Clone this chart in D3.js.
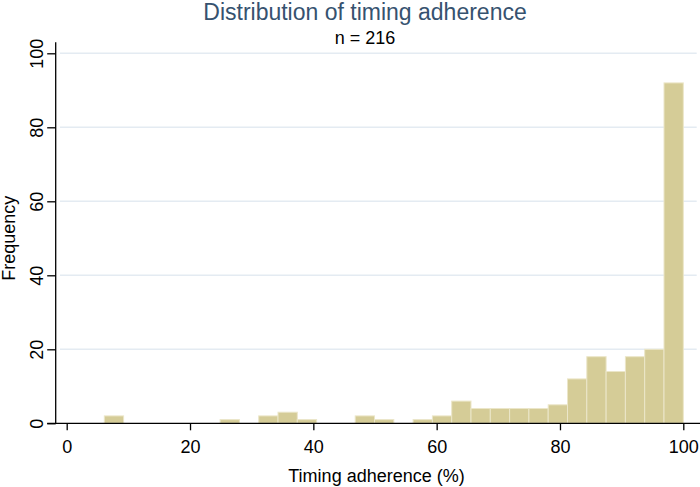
<!DOCTYPE html>
<html>
<head>
<meta charset="utf-8">
<script src="https://cdn.jsdelivr.net/npm/d3@7/dist/d3.min.js"></script>
<style>
  html, body { margin: 0; padding: 0; background: #fff; }
  svg { display: block; font-family: "Liberation Sans", Arial, sans-serif; }
</style>
</head>
<body>
<svg id="chart" width="700" height="487"></svg>
<script>
// ---- data ----
const titleText = "Distribution of timing adherence";
const subtitleText = "n = 216";
const xLabel = "Timing adherence (%)";
const yLabel = "Frequency";
const binStart = 6.1;      // left edge of first bin (%)
const binWidth = 3.13;     // bin width (%)
const counts = [2, 0, 0, 0, 0, 0, 1, 0, 2, 3, 1, 0, 0, 2, 1, 0, 1, 2, 6, 4, 4, 4, 4, 5, 12, 18, 14, 18, 20, 92];
const xTicks = [0, 20, 40, 60, 80, 100];
const yTicks = [0, 20, 40, 60, 80, 100];

const bins = counts.map((c, i) => ({ x0: binStart + i * binWidth, x1: binStart + (i + 1) * binWidth, n: c }));

const svg = d3.select("#chart");
const x = d3.scaleLinear().domain([0, 100]).range([66.7, 683.3]);
const y = d3.scaleLinear().domain([0, 100]).range([423.3, 53.3]);

const plotLeft = 55.7, plotRight = 700, plotTop = 42.3, plotBottom = 423.3;

// gridlines
svg.append("g").selectAll("line").data(yTicks.filter(d => d > 0)).join("line")
  .attr("x1", 60).attr("x2", 696.7)
  .attr("y1", d => y(d)).attr("y2", d => y(d))
  .attr("stroke", "#e4ebf2").attr("stroke-width", 1.5);

// bars
svg.append("g").selectAll("rect").data(bins.filter(b => b.n > 0)).join("rect")
  .attr("x", d => x(d.x0)).attr("width", d => x(d.x1) - x(d.x0))
  .attr("y", d => y(d.n)).attr("height", d => y(0) - y(d.n))
  .attr("fill", "#d5cc97").attr("stroke", "#ebe6c9").attr("stroke-width", 1);

// x axis
const gx = svg.append("g").attr("transform", `translate(0,${plotBottom})`)
  .call(d3.axisBottom(x).tickValues(xTicks).tickSize(7).tickFormat(d3.format("d")));
gx.select(".domain").remove();
gx.selectAll(".tick line").attr("stroke", "#000").attr("stroke-width", 1.3);
gx.selectAll(".tick text").attr("y", 29.7).attr("dy", null)
  .attr("font-size", 18).attr("fill", "#000")
  .attr("font-family", "'Liberation Sans', Arial, sans-serif");
svg.append("line").attr("x1", plotLeft - 8.5).attr("x2", plotRight)
  .attr("y1", plotBottom).attr("y2", plotBottom)
  .attr("stroke", "#000").attr("stroke-width", 1.3);

// y axis
const gy = svg.append("g").attr("transform", `translate(${plotLeft},0)`)
  .call(d3.axisLeft(y).tickValues(yTicks).tickSize(8.5).tickFormat(d3.format("d")));
gy.select(".domain").remove();
gy.selectAll(".tick line").attr("stroke", "#000").attr("stroke-width", 1.3);
gy.selectAll(".tick text")
  .attr("x", null).attr("y", null).attr("dy", null)
  .attr("text-anchor", "middle")
  .attr("transform", "translate(-12.7,0) rotate(-90)")
  .attr("font-size", 18).attr("fill", "#000")
  .attr("font-family", "'Liberation Sans', Arial, sans-serif");
svg.append("line").attr("x1", plotLeft).attr("x2", plotLeft)
  .attr("y1", plotTop).attr("y2", plotBottom)
  .attr("stroke", "#000").attr("stroke-width", 1.3);

// titles
svg.append("text").attr("x", 365).attr("y", 19.5).attr("text-anchor", "middle")
  .attr("font-size", 23).attr("fill", "#36526f").text(titleText);
svg.append("text").attr("x", 365).attr("y", 44).attr("text-anchor", "middle")
  .attr("font-size", 18).attr("fill", "#000").text(subtitleText);
svg.append("text").attr("x", 376.5).attr("y", 482).attr("text-anchor", "middle")
  .attr("font-size", 18).attr("fill", "#000").text(xLabel);
svg.append("text").attr("transform", `translate(15,238.3) rotate(-90)`).attr("text-anchor", "middle")
  .attr("font-size", 18).attr("fill", "#000").text(yLabel);
</script>
</body>
</html>
